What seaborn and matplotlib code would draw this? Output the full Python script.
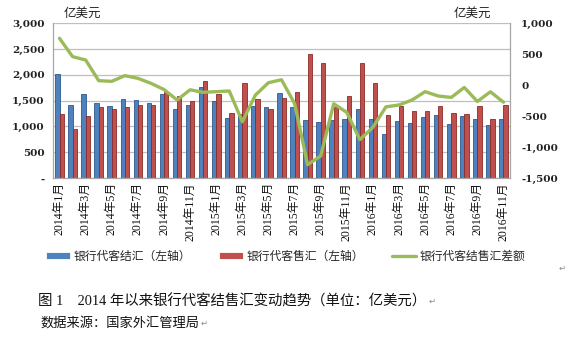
import numpy as np
import pandas as pd
import matplotlib
matplotlib.use("Agg")
import matplotlib.pyplot as plt
import seaborn as sns
from matplotlib.ticker import FuncFormatter

# ---------------- data (亿美元) ----------------
months = ["2014年1月", "2014年2月", "2014年3月", "2014年4月", "2014年5月", "2014年6月",
          "2014年7月", "2014年8月", "2014年9月", "2014年10月", "2014年11月", "2014年12月",
          "2015年1月", "2015年2月", "2015年3月", "2015年4月", "2015年5月", "2015年6月",
          "2015年7月", "2015年8月", "2015年9月", "2015年10月", "2015年11月", "2015年12月",
          "2016年1月", "2016年2月", "2016年3月", "2016年4月", "2016年5月", "2016年6月",
          "2016年7月", "2016年8月", "2016年9月", "2016年10月", "2016年11月"]
settle = [2015, 1410, 1635, 1460, 1398, 1530, 1512, 1450, 1622, 1345, 1420, 1765,
          1500, 1160, 1235, 1392, 1380, 1650, 1378, 1125, 1086, 1125, 1138, 1345,
          1140, 860, 1100, 1067, 1185, 1222, 1055, 1196, 1138, 1028, 1138]
sale = [1235, 957, 1210, 1385, 1333, 1370, 1410, 1410, 1668, 1585, 1495, 1882,
        1630, 1263, 1838, 1536, 1342, 1552, 1675, 2405, 2231, 1368, 1584, 2231,
        1833, 1216, 1398, 1306, 1294, 1398, 1255, 1235, 1398, 1138, 1410]
net = [757, 461, 407, 73, 62, 154, 111, 30, -70, -239, -75, -115,
       -105, -94, -590, -160, 40, 88, -295, -1285, -1144, -300, -440, -880,
       -680, -350, -320, -239, -105, -175, -198, -37, -263, -107, -275]

series_names = ["银行代客结汇（左轴）", "银行代客售汇（左轴）"]
line_name = "银行代客结售汇差额"
left_ticks = [0, 500, 1000, 1500, 2000, 2500, 3000]
right_ticks = [-1500, -1000, -500, 0, 500, 1000]

# ---------------- style ----------------
blue, blue_edge = "#4F81BD", "#2E5A8E"
red, red_edge = "#C0504D", "#8B2A27"
green = "#9BBB59"

sns.set_theme(style="white")
plt.rcParams['font.family'] = ['Noto Sans CJK SC', 'DejaVu Sans']
plt.rcParams['axes.unicode_minus'] = False

fig = plt.figure(figsize=(5.71, 3.37), dpi=100)
ax = fig.add_axes([53 / 571, 1 - 178 / 337, (510 - 53) / 571, (178 - 23.3) / 337])

df = pd.DataFrame({
    "月份": months * 2,
    "金额": settle + sale,
    "类型": [series_names[0]] * len(months) + [series_names[1]] * len(months),
})
sns.barplot(data=df, x="月份", y="金额", hue="类型", hue_order=series_names,
            palette=[blue, red], saturation=1, width=0.66, ax=ax,
            linewidth=0.6, errorbar=None)
for cont, ec in zip(ax.containers, [blue_edge, red_edge]):
    for p in cont:
        p.set_edgecolor(ec)

ax2 = ax.twinx()
sns.lineplot(x=np.arange(len(months)), y=net, ax=ax2, color=green, linewidth=2.4,
             label=line_name)

# axes
ax.set_xlim(-0.5, len(months) - 0.5)
ax.set_ylim(0, 3000)
ax.set_yticks(left_ticks)
ax.yaxis.set_major_formatter(FuncFormatter(lambda v, p: "-" if v == 0 else f"{v:,.0f}"))
ax2.set_ylim(-1500, 1000)
ax2.set_yticks(right_ticks)
ax2.yaxis.set_major_formatter(FuncFormatter(lambda v, p: f"{v:,.0f}"))
ax.set_xticks(range(0, len(months), 2))
ax.set_xticklabels(months[::2], rotation=90)
ax.set_xlabel("")
ax.set_ylabel("")
ax2.set_ylabel("")

for lab in ax.get_yticklabels() + ax2.get_yticklabels():
    lab.set_fontfamily(['DejaVu Serif'])
    lab.set_fontsize(7.5)
    lab.set_fontweight('bold')
    lab.set_color('#222222')
for lab in ax.get_xticklabels():
    lab.set_fontfamily(['Liberation Serif', 'Noto Sans CJK SC'])
    lab.set_fontsize(8.5)
    lab.set_color('#111111')

ax.tick_params(axis='y', length=0, pad=6)
ax2.tick_params(axis='y', length=0, pad=8)
ax.tick_params(axis='x', length=0, pad=3)

ax.yaxis.grid(True, color="#BFBFBF", linewidth=0.9)
ax.set_axisbelow(True)
for s in ["left", "right", "bottom"]:
    ax.spines[s].set_color("#A6A6A6")
    ax.spines[s].set_linewidth(0.9)
ax.spines["top"].set_visible(False)
for s in ax2.spines.values():
    s.set_visible(False)

# legend
h1, l1 = ax.get_legend_handles_labels()
h2, l2 = ax2.get_legend_handles_labels()
if ax.get_legend():
    ax.get_legend().remove()
if ax2.get_legend():
    ax2.get_legend().remove()
fig.legend(h1 + h2, l1 + l2, loc="center", bbox_to_anchor=(0.5, 1 - 256 / 337),
           ncol=3, frameon=False, fontsize=8.5, handlelength=2.0, handleheight=0.5,
           columnspacing=2.4, handletextpad=0.3)

# unit labels
fig.text(64 / 571, 1 - 13 / 337, "亿美元", fontsize=9, va="center", ha="left", color="#222222")
fig.text(454 / 571, 1 - 13 / 337, "亿美元", fontsize=9, va="center", ha="left", color="#222222")

# caption
cap_font = ['Liberation Serif', 'Noto Sans CJK SC']
t1 = fig.text(38 / 571, 1 - 301 / 337, "图 1\u30002014 年以来银行代客结售汇变动趋势（单位：亿美元）",
              fontsize=10.4, va="center", ha="left", family=cap_font, color="#111111")
t2 = fig.text(40 / 571, 1 - 323 / 337, "数据来源：国家外汇管理局",
              fontsize=9.5, va="center", ha="left", family=cap_font, color="#111111")

fig.canvas.draw()
renderer = fig.canvas.get_renderer()
inv = fig.transFigure.inverted()
for t in (t1, t2):
    bb = t.get_window_extent(renderer)
    x0, y0 = inv.transform((bb.x1 + 2, (bb.y0 + bb.y1) / 2))
    fig.text(x0, y0, "\u21b5", fontsize=6, va="center", ha="left",
             family=['DejaVu Sans'], color="#888888")
fig.text(559 / 571, 1 - 268 / 337, "\u21b5", fontsize=6, va="center", ha="left",
         family=['DejaVu Sans'], color="#888888")

fig.savefig("out.png", dpi=100)
